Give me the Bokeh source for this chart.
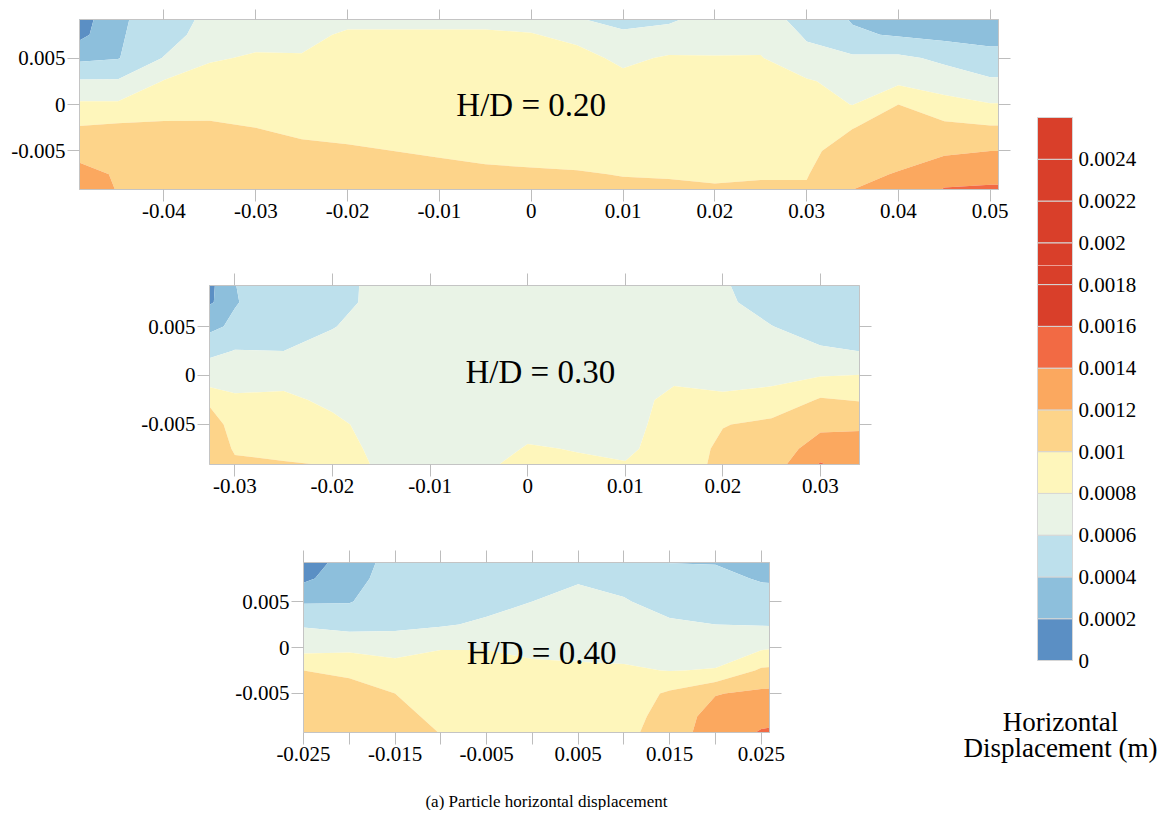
import numpy as np
from bokeh.plotting import figure
from bokeh.layouts import row, column
from bokeh.models import Range1d, FixedTicker, LinearAxis, Label, Spacer
from bokeh.core.properties import value
from bokeh.embed import file_html
from bokeh.resources import INLINE

SERIF = "Liberation Serif"

# ---------------- data ----------------
# contour levels (x1e-4 m) and colours
levels_e4 = [0, 2, 4, 6, 8, 10, 12, 14, 16, 18, 20, 22, 24, 26]
palette = ["#5b8fc4", "#8dbfdc", "#bde0ec", "#e9f3e6", "#fef6bb", "#fdd48a",
           "#fba85f", "#f26a44", "#d93f2a", "#d93f2a", "#d93f2a", "#d93f2a", "#d93f2a"]
cb_ticks_e4 = [0, 2, 4, 6, 8, 10, 12, 14, 16, 18, 20, 22, 24]
cb_labels = ["0", "0.0002", "0.0004", "0.0006", "0.0008", "0.001", "0.0012",
             "0.0014", "0.0016", "0.0018", "0.002", "0.0022", "0.0024"]
cb_title = ["Horizontal", "Displacement (m)"]
caption = "(a) Particle horizontal displacement"

# grid y (top -> bottom), shared by the three panels
grid_y = [0.01, 0.0075, 0.005, 0.0025, 0.0, -0.0025, -0.005, -0.0075, -0.01]

# H/D = 0.20 : horizontal displacement (x1e-4 m), rows top -> bottom
p1_x = [-0.05, -0.045, -0.04, -0.035, -0.03, -0.025, -0.02, -0.015, -0.01, -0.005, 0.0,
        0.005, 0.01, 0.015, 0.02, 0.025, 0.03, 0.035, 0.04, 0.045, 0.05, 0.055]
p1_z = [
    [0.3, 3.6, 5.0, 6.3, 7.0, 7.2, 7.3, 7.3, 7.3, 7.3, 7.0, 5.5, 5.0, 5.3, 6.3, 6.5, 5.2, 3.6, 2.5, 2.5, 2.6, 2.6],
    [0.9, 3.8, 5.0, 7.0, 7.4, 7.6, 8.2, 8.2, 8.2, 8.2, 8.1, 7.5, 6.3, 6.6, 7.2, 7.3, 5.8, 4.3, 3.8, 3.4, 3.4, 3.4],
    [3.5, 3.9, 6.1, 7.8, 8.2, 8.1, 9.0, 9.0, 9.0, 9.0, 9.0, 8.6, 7.6, 8.2, 8.1, 8.1, 6.5, 6.3, 6.4, 5.6, 4.6, 4.6],
    [6.2, 6.2, 8.1, 8.8, 9.0, 9.0, 9.5, 9.4, 9.5, 9.5, 9.5, 9.3, 8.5, 9.0, 8.9, 8.8, 8.2, 7.3, 7.6, 7.0, 6.3, 6.3],
    [8.3, 8.3, 9.0, 9.3, 9.4, 9.5, 9.6, 9.6, 9.6, 9.6, 9.6, 9.6, 9.3, 9.4, 9.3, 9.2, 8.8, 7.95, 10.0, 8.7, 8.1, 8.1],
    [10.1, 10.4, 10.4, 10.3, 10.0, 9.6, 9.5, 9.4, 9.5, 9.5, 9.5, 9.5, 9.5, 9.5, 9.4, 9.3, 9.3, 9.95, 10.8, 10.5, 10.2, 10.2],
    [11.5, 11.5, 11.0, 11.0, 10.8, 10.4, 10.2, 10.0, 9.8, 9.6, 9.5, 9.5, 9.4, 9.3, 9.3, 9.2, 9.6, 10.8, 11.4, 11.7, 12.0, 12.0],
    [12.8, 11.8, 11.2, 11.2, 11.2, 11.0, 10.8, 10.6, 10.5, 10.3, 10.2, 10.1, 9.95, 9.9, 9.8, 9.9, 9.9, 11.6, 12.1, 13.2, 13.5, 13.5],
    [13.2, 12.0, 11.3, 11.3, 11.3, 11.2, 11.0, 10.8, 10.7, 10.6, 10.5, 10.4, 10.4, 10.4, 10.3, 10.3, 10.3, 12.2, 12.8, 14.6, 14.6, 14.6],
]

# H/D = 0.30
p2_x = [-0.035, -0.03, -0.025, -0.02, -0.015, -0.01, -0.005, 0.0,
        0.005, 0.01, 0.015, 0.02, 0.025, 0.03, 0.035]
p2_z = [
    [-1.0, 4.0, 5.0, 5.0, 6.8, 6.9, 6.9, 6.9, 6.8, 6.7, 6.6, 6.1, 5.0, 5.0, 5.0],
    [-0.5, 3.9, 5.0, 5.1, 6.8, 7.0, 7.0, 7.0, 6.9, 6.8, 6.8, 6.4, 5.1, 5.0, 5.0],
    [3.0, 4.3, 5.0, 5.9, 7.0, 7.1, 7.0, 7.0, 7.0, 7.0, 7.1, 6.9, 6.05, 5.0, 5.1],
    [4.5, 6.1, 6.0, 6.8, 7.1, 7.1, 7.1, 7.0, 7.0, 7.1, 7.3, 7.3, 7.0, 6.3, 5.9],
    [7.0, 7.2, 7.3, 7.3, 7.2, 7.2, 7.1, 7.1, 7.1, 7.2, 7.7, 7.6, 7.6, 7.9, 8.1],
    [11.0, 8.3, 8.4, 7.6, 7.2, 7.2, 7.1, 7.1, 7.2, 7.4, 8.4, 8.2, 8.5, 10.2, 9.8],
    [11.0, 9.7, 9.0, 8.4, 7.3, 7.2, 7.2, 7.6, 7.5, 7.5, 8.6, 9.9, 10.5, 11.6, 11.8],
    [11.3, 9.9, 9.4, 9.0, 7.4, 7.3, 7.4, 8.1, 7.95, 7.8, 8.5, 10.5, 11.0, 12.8, 12.6],
    [11.5, 10.3, 10.6, 10.4, 7.6, 7.5, 7.9, 8.5, 8.3, 8.2, 8.6, 10.8, 11.4, 15.0, 13.0],
]

# H/D = 0.40
p3_x = [-0.03, -0.025, -0.02, -0.015, -0.01, -0.005, 0.0,
        0.005, 0.01, 0.015, 0.02, 0.025, 0.03]
p3_z = [
    [0.5, 0.8, 2.6, 4.8, 4.6, 4.4, 4.3, 4.5, 4.4, 3.8, 3.6, 2.4, 2.2],
    [1.5, 1.6, 3.2, 5.0, 5.0, 4.8, 4.9, 5.8, 5.2, 4.4, 4.6, 3.8, 3.6],
    [3.2, 3.8, 3.9, 5.0, 5.2, 5.4, 6.0, 6.6, 6.2, 5.0, 5.2, 5.0, 4.9],
    [5.6, 5.8, 5.3, 5.5, 5.8, 6.3, 6.9, 7.0, 6.9, 6.4, 6.0, 5.9, 5.8],
    [7.0, 7.3, 7.5, 7.3, 7.9, 7.9, 7.5, 7.5, 7.5, 7.3, 7.2, 7.7, 8.2],
    [9.5, 10.0, 9.8, 8.8, 8.8, 8.8, 8.5, 8.3, 8.2, 7.95, 8.1, 10.3, 10.8],
    [10.8, 10.9, 10.4, 10.0, 9.2, 9.2, 9.1, 9.0, 8.9, 10.3, 11.9, 12.4, 12.6],
    [11.2, 11.4, 10.9, 10.5, 9.6, 9.5, 9.3, 9.2, 9.2, 10.8, 12.8, 13.4, 13.8],
    [11.3, 11.5, 11.0, 10.7, 10.1, 9.95, 9.5, 9.4, 9.6, 11.0, 13.2, 14.5, 14.8],
]

# tick positions and labels
p1_xticks = [-0.05, -0.04, -0.03, -0.02, -0.01, 0.0, 0.01, 0.02, 0.03, 0.04, 0.05]
p1_xlabels = ["-0.05", "-0.04", "-0.03", "-0.02", "-0.01", "0", "0.01", "0.02", "0.03", "0.04", "0.05"]
p2_xticks = [-0.03, -0.02, -0.01, 0.0, 0.01, 0.02, 0.03]
p2_xlabels = ["-0.03", "-0.02", "-0.01", "0", "0.01", "0.02", "0.03"]
p3_xticks = [-0.025, -0.015, -0.005, 0.005, 0.015, 0.025]
p3_xlabels = ["-0.025", "-0.015", "-0.005", "0.005", "0.015", "0.025"]
p3_xminor = [-0.02, -0.01, 0.0, 0.01, 0.02]
yticks = [-0.005, 0.0, 0.005]
ylabels = ["-0.005", "0", "0.005"]

levels = [v * 1e-4 for v in levels_e4]

TICK_COL = "#bdbdbd"


def style_axis(ax, show_labels=True, tick_len=12):
    ax.axis_line_color = "#c4c4c4"
    ax.major_tick_line_color = TICK_COL
    ax.major_tick_out = tick_len
    ax.major_tick_in = 0
    ax.minor_tick_line_color = TICK_COL
    ax.minor_tick_out = tick_len
    ax.minor_tick_in = 0
    ax.major_label_text_font = SERIF
    if show_labels:
        ax.major_label_text_color = "black"
        ax.major_label_text_font_size = "21px"
        ax.major_label_standoff = 2
    else:
        ax.major_label_text_color = None
        ax.major_label_text_font_size = "1px"
        ax.major_label_standoff = 0


def make_panel(xs, zrows, xr, yr, xt, xl, xminor, hd_text, hd_xy, width, height, mb, top_tick=12):
    p = figure(width=width, height=height, x_range=Range1d(*xr), y_range=Range1d(*yr),
               output_backend="svg", toolbar_location=None,
               min_border_left=mb[0], min_border_right=mb[1],
               min_border_top=mb[2], min_border_bottom=mb[3])
    ys = grid_y[::-1]
    z = np.array(zrows[::-1]) * 1e-4
    p.contour(x=xs, y=ys, z=z, levels=levels, fill_color=palette, line_color=None)
    p.xgrid.visible = False
    p.ygrid.visible = False
    p.outline_line_color = "#d0d0d0"
    p.background_fill_color = "white"

    p.xaxis.ticker = FixedTicker(ticks=xt, minor_ticks=xminor)
    p.xaxis.major_label_overrides = dict(zip(xt, xl))
    style_axis(p.xaxis[0])
    p.yaxis.ticker = FixedTicker(ticks=yticks, minor_ticks=[])
    p.yaxis.major_label_overrides = dict(zip(yticks, ylabels))
    style_axis(p.yaxis[0])

    top = LinearAxis(ticker=FixedTicker(ticks=xt, minor_ticks=xminor))
    style_axis(top, show_labels=False, tick_len=top_tick)
    p.add_layout(top, "above")
    right = LinearAxis(ticker=FixedTicker(ticks=yticks, minor_ticks=[]))
    style_axis(right, show_labels=False)
    p.add_layout(right, "right")

    p.add_layout(Label(x=hd_xy[0], y=hd_xy[1], text=hd_text, text_font=SERIF,
                       text_font_size="33px", text_align="center",
                       text_baseline="middle", text_color="black"))
    return p


p1 = make_panel(p1_x, p1_z, (-0.0492, 0.0509), (-0.00914, 0.00914), p1_xticks, p1_xlabels, [],
                "H/D = 0.20", (0.0, 0.0), 1004, 257, (69, 14, 11, 76), top_tick=10)
p2 = make_panel(p2_x, p2_z, (-0.0326, 0.0340), (-0.0091, 0.0092), p2_xticks, p2_xlabels, [],
                "H/D = 0.30", (0.0013, 0.0004), 760, 275, (89, 21, 20, 76))
p3 = make_panel(p3_x, p3_z, (-0.0250, 0.0259), (-0.00924, 0.00924), p3_xticks, p3_xlabels, p3_xminor,
                "H/D = 0.40", (0.001, -0.0006), 570, 240, (83, 21, 22, 48))

# ---------------- colour bar (split over two canvases, page-pixel layout) ----------------
CB_TOP, CB_BOT, BAR_L, BAR_W, SPLIT = 117.0, 660.0, 1037.0, 35.0, 265.0
vmax = levels[-1]
px_per_unit = (CB_BOT - CB_TOP) / vmax
cb_ticks = [v * 1e-4 for v in cb_ticks_e4]


def v_at(py):
    return (CB_BOT - py) / px_per_unit


def u_at(px):
    return (px - BAR_L) / BAR_W


def make_cb(x0, x1, y0, y1):
    lo, hi = v_at(y1), v_at(y0)
    c = figure(width=int(x1 - x0), height=int(y1 - y0),
               x_range=Range1d(u_at(x0), u_at(x1)), y_range=Range1d(lo, hi),
               output_backend="svg", toolbar_location=None, x_axis_location=None,
               y_axis_location=None, min_border=0)
    c.quad(left=0, right=1, bottom=levels[:-1], top=levels[1:], fill_color=palette,
           line_color="#d6d6d6", line_width=1)
    keep = [i for i, t in enumerate(cb_ticks) if lo < t < hi]
    c.text(x=[u_at(1078)] * len(keep), y=[cb_ticks[i] for i in keep],
           text=[cb_labels[i] for i in keep],
           text_font=value(SERIF), text_font_size=value("21px"), text_color="black",
           text_align="left", text_baseline="middle")
    c.xgrid.visible = False
    c.ygrid.visible = False
    c.outline_line_color = None
    return c


cb_top = make_cb(1012, 1159, 8, SPLIT)
cb_bot = make_cb(960, 1159, SPLIT, 810)
cb_bot.text(x=[u_at(1060)] * 2, y=[v_at(721), v_at(747)], text=cb_title,
            text_font=value(SERIF), text_font_size=value("27px"), text_color="black",
            text_align="center", text_baseline="alphabetic")

# ---------------- caption ----------------
cap = figure(width=952, height=30, x_range=Range1d(0, 1), y_range=Range1d(0, 1),
             output_backend="svg", toolbar_location=None, x_axis_location=None,
             y_axis_location=None, min_border=0)
cap.xgrid.visible = False
cap.ygrid.visible = False
cap.outline_line_color = None
cap.add_layout(Label(x=(546 - 8) / 952.0, y=0.3, text=caption,
                     text_font=SERIF, text_font_size="17px", text_align="center",
                     text_baseline="middle", text_color="black"))

left_col = column(
    row(Spacer(width=112, height=275), p2, Spacer(width=80, height=275)),
    row(Spacer(width=212, height=240), p3, Spacer(width=170, height=240)),
    cap,
)
body = column(
    row(column(p1), column(cb_top)),
    row(left_col, column(cb_bot)),
)
layout = column(Spacer(width=1159, height=8), row(Spacer(width=8, height=802), body))

open("out.html", "w").write(file_html(layout, INLINE))
